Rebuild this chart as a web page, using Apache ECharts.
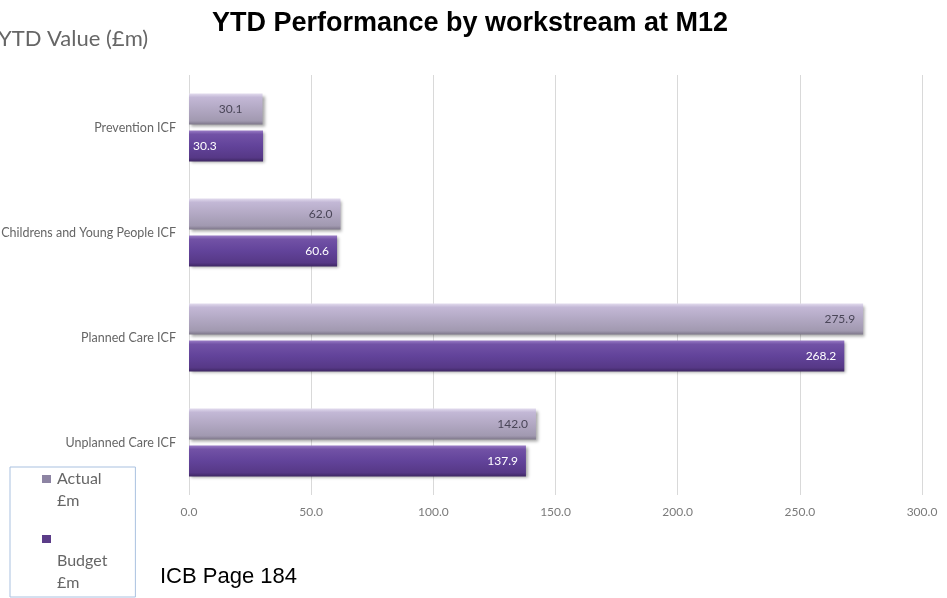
<!DOCTYPE html>
<html>
<head>
<meta charset="utf-8">
<script src="https://cdn.jsdelivr.net/npm/echarts@6/dist/echarts.min.js"></script>
<style>
  html, body { margin: 0; padding: 0; background: #ffffff; }
  #chart { width: 947px; height: 598px; }
</style>
</head>
<body>
<div id="chart"></div>
<script>
// Workstreams, listed top to bottom
const categories = ['Prevention ICF', 'Childrens and Young People ICF', 'Planned Care ICF', 'Unplanned Care ICF'];
// YTD values at M12, £m
const actualValues = [30.1, 62.0, 275.9, 142.0];
const budgetValues = [30.3, 60.6, 268.2, 137.9];
// Value axis ticks
const xTicks = [0, 50, 100, 150, 200, 250, 300];

const labelFont = "Lato, 'Open Sans', sans-serif";

function grad(stops) {
  return new echarts.graphic.LinearGradient(0, 0, 0, 1,
    stops.map(s => ({ offset: s[0], color: s[1] })));
}

const actualFill = grad([[0, '#e2dbee'], [0.12, '#c3b8d6'], [0.5, '#b2a8c3'], [0.88, '#a199b0'], [1, '#7d7689']]);
const budgetFill = grad([[0, '#9a7cc6'], [0.12, '#7252a6'], [0.5, '#62439a'], [0.88, '#563886'], [1, '#3e2763']]);

// Short bars keep their labels clear of the bar ends
function actualItem(v) {
  return v < 40 ? { value: v, label: { distance: 20 } } : v;
}
function budgetItem(v) {
  return v < 40 ? { value: v, label: { position: 'insideLeft', distance: 4 } } : v;
}

const chart = echarts.init(document.getElementById('chart'));
chart.setOption({
  backgroundColor: '#ffffff',
  animation: false,
  title: {
    text: 'YTD Performance by workstream at M12',
    left: 465, textAlign: 'center', top: 5,
    textStyle: { fontFamily: 'Arial, Liberation Sans, sans-serif', fontWeight: 'bold', fontSize: 27, color: '#000000' }
  },
  grid: { left: 189, right: 25, top: 75, bottom: 103, outerBoundsMode: 'none' },
  xAxis: {
    type: 'value', min: xTicks[0], max: xTicks[xTicks.length - 1], interval: 50,
    axisLine: { show: false }, axisTick: { show: false },
    splitLine: { lineStyle: { color: '#d9d9d9', width: 1 } },
    axisLabel: { margin: 11, color: '#7a7a7a', fontSize: 12, fontFamily: labelFont, formatter: v => v.toFixed(1) }
  },
  yAxis: {
    type: 'category', data: categories, inverse: true,
    axisLine: { show: false }, axisTick: { show: false },
    axisLabel: { margin: 13, color: '#666666', fontSize: 12.5, fontFamily: labelFont }
  },
  legend: {
    orient: 'vertical', left: 10, top: 467, height: 150,
    icon: 'none', itemWidth: 0, itemGap: 24,
    borderColor: '#a9c1e0', borderWidth: 1,
    padding: [4, 28, 6, 27],
    formatter: function (name) {
      if (name === 'Actual £m') return '{ia|}{g|}{t|Actual}\n{sp|}{t|£m}';
      return '{ib|}\n{sp|}{t|Budget}\n{sp|}{t|£m}';
    },
    textStyle: {
      rich: {
        t: { fontSize: 16, color: '#666666', fontFamily: labelFont, lineHeight: 22 },
        ia: { width: 9, height: 8, backgroundColor: '#8d84a3' },
        ib: { width: 9, height: 8, backgroundColor: '#5b3c88', lineHeight: 22 },
        g: { width: 6 },
        sp: { width: 15 }
      }
    },
    data: ['Actual £m', 'Budget £m']
  },
  graphic: [
    { type: 'text', left: -2, top: 28, style: { text: 'YTD Value (£m)', fontSize: 22, fontFamily: labelFont, fill: '#666666' } },
    { type: 'text', left: 160, top: 566, style: { text: 'ICB Page 184', fontSize: 22, fontFamily: 'Arial, Liberation Sans, sans-serif', fill: '#000000' } }
  ],
  series: [
    {
      name: 'Actual £m', type: 'bar', data: actualValues.map(actualItem),
      barWidth: 31, barGap: '19%',
      itemStyle: { color: actualFill, shadowBlur: 3, shadowOffsetX: 2, shadowOffsetY: 2, shadowColor: 'rgba(0,0,0,0.35)' },
      label: { show: true, position: 'insideRight', distance: 8, color: '#4a4658', fontSize: 12, fontFamily: labelFont, formatter: p => p.value.toFixed(1) }
    },
    {
      name: 'Budget £m', type: 'bar', data: budgetValues.map(budgetItem),
      barWidth: 31, barGap: '19%',
      itemStyle: { color: budgetFill, shadowBlur: 3, shadowOffsetX: 2, shadowOffsetY: 2, shadowColor: 'rgba(0,0,0,0.35)' },
      label: { show: true, position: 'insideRight', distance: 8, color: '#ffffff', fontSize: 12, fontFamily: labelFont, formatter: p => p.value.toFixed(1) }
    }
  ]
});
</script>
</body>
</html>
